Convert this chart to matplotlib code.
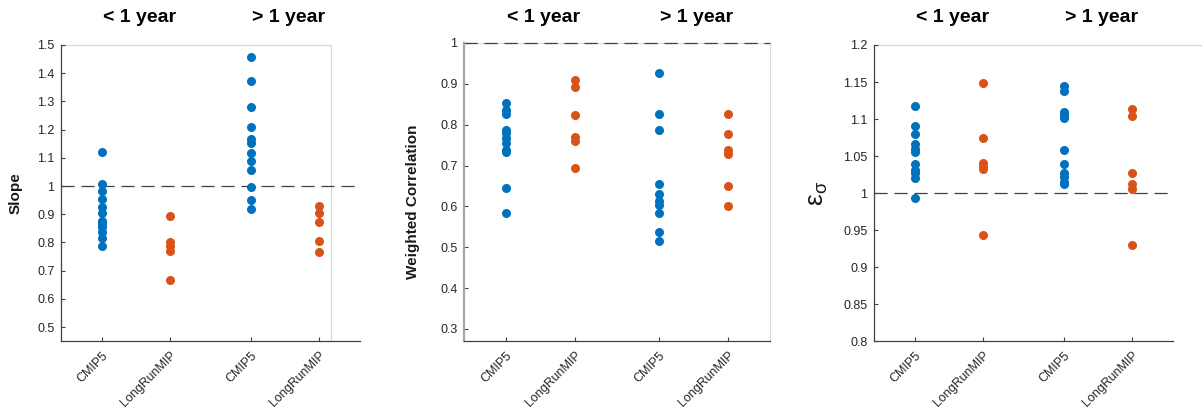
"""
Slope, weighted correlation and epsilon_sigma for CMIP5 vs LongRunMIP,
split into sub-annual and multi-annual timescales.
"""
import matplotlib.pyplot as plt
from matplotlib.lines import Line2D
from matplotlib.transforms import blended_transform_factory

plt.rcParams['font.family'] = ['Liberation Sans', 'DejaVu Sans']

groups = ['CMIP5', 'LongRunMIP', 'CMIP5', 'LongRunMIP']
timescales = ['< 1 year', '> 1 year']
xpos = [1, 2, 3.2, 4.2]

# Slope
slope_cmip_short = [1.120, 1.007, 0.982, 0.954, 0.924, 0.903, 0.877, 0.870, 0.865,
                    0.854, 0.837, 0.815, 0.788]
slope_lrm_short = [0.894, 0.800, 0.787, 0.770, 0.667]
slope_cmip_long = [1.457, 1.373, 1.280, 1.210, 1.166, 1.151, 1.118, 1.090, 1.057,
                   0.998, 0.950, 0.917]
slope_lrm_long = [0.929, 0.905, 0.873, 0.805, 0.767]

# Weighted correlation
corr_cmip_short = [0.853, 0.836, 0.826, 0.787, 0.779, 0.768, 0.756, 0.737, 0.733,
                   0.646, 0.583]
corr_lrm_short = [0.910, 0.892, 0.824, 0.771, 0.759, 0.695]
corr_cmip_long = [0.926, 0.826, 0.787, 0.655, 0.630, 0.614, 0.604, 0.584, 0.537,
                  0.514]
corr_lrm_long = [0.826, 0.777, 0.738, 0.728, 0.650, 0.600]

# epsilon_sigma
eps_cmip_short = [1.118, 1.090, 1.080, 1.066, 1.060, 1.055, 1.039, 1.031, 1.027,
                  1.021, 0.994]
eps_lrm_short = [1.148, 1.074, 1.040, 1.035, 1.033, 0.944]
eps_cmip_long = [1.144, 1.138, 1.109, 1.105, 1.101, 1.058, 1.039, 1.027, 1.022,
                 1.015, 1.012]
eps_lrm_long = [1.114, 1.104, 1.027, 1.012, 1.005, 0.930]

BLUE = '#0072BD'
ORANGE = '#D95319'
AXCOL = '#404040'
BOXCOL = '#d9d9d9'

panels = [
    dict(data=[slope_cmip_short, slope_lrm_short, slope_cmip_long, slope_lrm_long],
         ylabel='Slope', ylim=(0.45, 1.5), yticks=[0.5, 0.6, 0.7, 0.8, 0.9, 1, 1.1, 1.2, 1.3, 1.4, 1.5],
         yfmt=['0.5', '0.6', '0.7', '0.8', '0.9', '1', '1.1', '1.2', '1.3', '1.4', '1.5'],
         box_right=4.38, rect=[0.0507, 0.178, 0.2488, 0.7136],
         ylx=-0.127, yly=0.5, lsize=11, lweight='bold', leftcol=AXCOL, leftw=0.9),
    dict(data=[corr_cmip_short, corr_lrm_short, corr_cmip_long, corr_lrm_long],
         ylabel='Weighted Correlation', ylim=(0.27, 1.0), yticks=[0.3, 0.4, 0.5, 0.6, 0.7, 0.8, 0.9, 1],
         yfmt=['0.3', '0.4', '0.5', '0.6', '0.7', '0.8', '0.9', '1'],
         box_right=4.8, rect=[0.386, 0.178, 0.2546, 0.7184],
         ylx=-0.144, yly=0.466, lsize=11, lweight='bold', leftcol='#a6a6a6', leftw=1.6),
    dict(data=[eps_cmip_short, eps_lrm_short, eps_cmip_long, eps_lrm_long],
         ylabel=r'$\mathregular{ε_σ}$', ylim=(0.8, 1.2),
         yticks=[0.8, 0.85, 0.9, 0.95, 1, 1.05, 1.1, 1.15, 1.2],
         yfmt=['0.8', '0.85', '0.9', '0.95', '1', '1.05', '1.1', '1.15', '1.2'],
         box_right=5.3, rect=[0.7271, 0.178, 0.2488, 0.7136],
         ylx=-0.147, yly=0.5, lsize=19, lweight='normal', leftcol=AXCOL, leftw=0.9),
]

fig = plt.figure(figsize=(12.02, 4.15), dpi=100)

for p in panels:
    ax = fig.add_axes(p['rect'])
    for i, vals in enumerate(p['data']):
        col = BLUE if i % 2 == 0 else ORANGE
        ax.plot([xpos[i]] * len(vals), vals, 'o', color=col, ms=6.5, mec='none',
                zorder=3, clip_on=False)

    ax.set_xlim(0.4, 4.8)
    ax.set_ylim(*p['ylim'])

    # reference line at 1
    ax.axhline(1.0, color=AXCOL, lw=0.9, dashes=(10.5, 5.5), zorder=2, clip_on=False)

    # light outer box (top and right)
    y0, y1 = p['ylim']
    ax.add_line(Line2D([0.4, p['box_right'], p['box_right']], [y1, y1, y0],
                       color=BOXCOL, lw=0.9, clip_on=False, zorder=1))

    for side in ['top', 'right']:
        ax.spines[side].set_visible(False)
    ax.spines['bottom'].set_color(AXCOL)
    ax.spines['bottom'].set_linewidth(0.9)
    ax.spines['left'].set_color(p['leftcol'])
    ax.spines['left'].set_linewidth(p['leftw'])

    ax.set_yticks(p['yticks'])
    ax.set_yticklabels(p['yfmt'])
    ax.set_xticks(xpos)
    ax.set_xticklabels(groups, rotation=45, ha='right', rotation_mode='anchor')
    ax.tick_params(direction='in', length=3, width=0.8, color=AXCOL,
                   labelsize=9, labelcolor='#262626')
    ax.tick_params(axis='y', pad=4.7)
    ax.tick_params(axis='x', pad=6)

    ax.set_ylabel(p['ylabel'], fontsize=p['lsize'], fontweight=p['lweight'], color='#1a1a1a')
    ax.yaxis.set_label_coords(p['ylx'], p['yly'])

    # timescale headers, same height across all panels
    trans = blended_transform_factory(ax.transData, fig.transFigure)
    for xc, label in zip([1.55, 3.75], timescales):
        ax.text(xc, 1 - 17.5 / 415, label, transform=trans,
                ha='center', va='center', fontsize=14, fontweight='bold')

fig.savefig('out.png', dpi=100)
